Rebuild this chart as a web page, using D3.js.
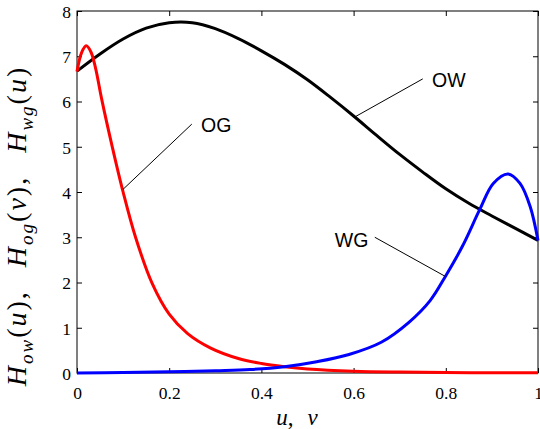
<!DOCTYPE html>
<html>
<head>
<meta charset="utf-8">
<script src="https://cdn.jsdelivr.net/npm/d3@7"></script>
<style>
  body { margin: 0; background: #fff; }
  .tick text { font-family: "Liberation Serif", "Times New Roman", serif; font-size: 17.5px; fill: #000; }
  .tick line { stroke: #000; }
  .domain { display: none; }
  .lbl { font-family: "Liberation Serif", "Times New Roman", serif; fill: #000; }
  .ann { font-family: "Liberation Sans", Arial, sans-serif; font-size: 19.5px; fill: #000; }
</style>
</head>
<body>
<div id="chart"></div>
<script>
// data
var xTicks = [0, 0.2, 0.4, 0.6, 0.8, 1];
var xTickLabels = ["0", "0.2", "0.4", "0.6", "0.8", "1"];
var yTicks = [0, 1, 2, 3, 4, 5, 6, 7, 8];

// OW (black)
var owU = [0, 0.05, 0.1, 0.15, 0.2, 0.25, 0.3, 0.35, 0.4, 0.45, 0.5, 0.55, 0.6, 0.65, 0.7, 0.75, 0.8, 0.85, 0.9, 0.95, 1];
var owH = [6.67, 7.05, 7.38, 7.62, 7.74, 7.74, 7.61, 7.39, 7.12, 6.82, 6.48, 6.09, 5.68, 5.25, 4.83, 4.44, 4.07, 3.75, 3.47, 3.2, 2.93];

// OG (red)
var ogU = [0, 0.01, 0.02, 0.03, 0.04, 0.054, 0.076, 0.1, 0.127, 0.163, 0.2, 0.24, 0.29, 0.35, 0.4, 0.45, 0.5, 0.6, 0.7, 0.8, 0.9, 1];
var ogH = [6.66, 7.08, 7.23, 7.1, 6.75, 6.03, 5.02, 4.0, 3.0, 1.98, 1.3, 0.87, 0.55, 0.32, 0.21, 0.14, 0.09, 0.04, 0.02, 0.01, 0.006, 0.003];

// WG (blue)
var wgU = [0, 0.1, 0.2, 0.3, 0.375, 0.45, 0.52, 0.59, 0.66, 0.72, 0.766, 0.8, 0.836, 0.874, 0.903, 0.935, 0.961, 0.983, 1];
var wgH = [0, 0.01, 0.025, 0.05, 0.075, 0.14, 0.25, 0.41, 0.68, 1.12, 1.6, 2.15, 2.8, 3.62, 4.19, 4.4, 4.19, 3.68, 2.93];

// annotation labels: text, line start (on curve), line end, text anchor point
var annNames = ["OW", "OG", "WG"];
var annFrom = [[0.603, 5.66], [0.1, 4.06], [0.798, 2.14]];
var annTo = [[0.75, 6.5], [0.249, 5.5], [0.646, 3.0]];
var annText = [[0.77, 6.33], [0.269, 5.33], [0.632, 2.78]];
var annAnchor = ["start", "start", "end"];

var margin = {top: 11, right: 2, bottom: 56, left: 77};
var width = 540 - margin.left - margin.right,
    height = 429 - margin.top - margin.bottom;

var x = d3.scaleLinear().domain([0, 1]).range([0, width]);
var y = d3.scaleLinear().domain([0, 8]).range([height, 0]);

var svg = d3.select("#chart").append("svg")
    .attr("width", 540)
    .attr("height", 429)
  .append("g")
    .attr("transform", "translate(" + margin.left + "," + margin.top + ")");

// axes, ticks pointing inward on all four sides
svg.append("g")
    .attr("transform", "translate(0," + height + ")")
    .call(d3.axisBottom(x).tickValues(xTicks).tickFormat(function(d, i) { return xTickLabels[i]; }).tickSize(-5))
  .selectAll("text")
    .attr("y", 26).attr("dy", 0);
svg.append("g")
    .call(d3.axisTop(x).tickValues(xTicks).tickFormat("").tickSize(-5));
svg.append("g")
    .call(d3.axisLeft(y).tickValues(yTicks).tickFormat(d3.format("d")).tickSize(-5))
  .selectAll("text")
    .attr("x", -6).attr("dy", "0.36em");
svg.append("g")
    .attr("transform", "translate(" + width + ",0)")
    .call(d3.axisRight(y).tickValues(yTicks).tickFormat("").tickSize(-5));

svg.append("rect")
    .attr("width", width)
    .attr("height", height)
    .attr("fill", "none")
    .attr("stroke", "#000")
    .attr("stroke-width", 1);

var line = d3.line()
    .x(function(d) { return x(d[0]); })
    .y(function(d) { return y(d[1]); })
    .curve(d3.curveCatmullRom.alpha(0.5));

var series = [
  {u: owU, h: owH, color: "#000000"},
  {u: ogU, h: ogH, color: "#ff0000"},
  {u: wgU, h: wgH, color: "#0000ff"}
];

svg.selectAll(".curve")
    .data(series)
    .enter().append("path")
    .attr("class", "curve")
    .attr("fill", "none")
    .attr("stroke", function(d) { return d.color; })
    .attr("stroke-width", 3)
    .attr("d", function(d) { return line(d.u.map(function(u, i) { return [u, d.h[i]]; })); });

// annotations
svg.selectAll(".annline")
    .data(annNames)
    .enter().append("line")
    .attr("class", "annline")
    .attr("x1", function(d, i) { return x(annFrom[i][0]); })
    .attr("y1", function(d, i) { return y(annFrom[i][1]); })
    .attr("x2", function(d, i) { return x(annTo[i][0]); })
    .attr("y2", function(d, i) { return y(annTo[i][1]); })
    .attr("stroke", "#000")
    .attr("stroke-width", 1);

svg.selectAll(".ann")
    .data(annNames)
    .enter().append("text")
    .attr("class", "ann")
    .attr("x", function(d, i) { return x(annText[i][0]); })
    .attr("y", function(d, i) { return y(annText[i][1]); })
    .attr("text-anchor", function(d, i) { return annAnchor[i]; })
    .text(function(d) { return d; });

// x label: u, v
var xl = svg.append("text")
    .attr("class", "lbl")
    .attr("x", 220)
    .attr("y", height + 52)
    .attr("text-anchor", "middle")
    .style("font-size", "23px");
xl.append("tspan").style("font-style", "italic").text("u");
xl.append("tspan").text(",");
xl.append("tspan").attr("dx", 14).style("font-style", "italic").text("v");

// y label: H_ow(u), H_og(v), H_wg(u)
var yl = svg.append("text")
    .attr("class", "lbl")
    .attr("transform", "translate(-51," + (height / 2 + 34) + ") rotate(-90)")
    .attr("text-anchor", "middle")
    .style("font-size", "28px")
    .style("letter-spacing", "2px");
var parts = [["ow", "u"], ["og", "v"], ["wg", "u"]];
parts.forEach(function(p, i) {
  yl.append("tspan").style("font-style", "italic").text("H");
  yl.append("tspan").attr("dy", 7).style("font-size", "19px").style("font-style", "italic").text(p[0]);
  yl.append("tspan").attr("dy", -7).text("(");
  yl.append("tspan").style("font-style", "italic").text(p[1]);
  yl.append("tspan").text(i < 2 ? ")," : ")");
  if (i < 2) yl.append("tspan").attr("dx", 14).text(" ");
});
</script>
</body>
</html>
